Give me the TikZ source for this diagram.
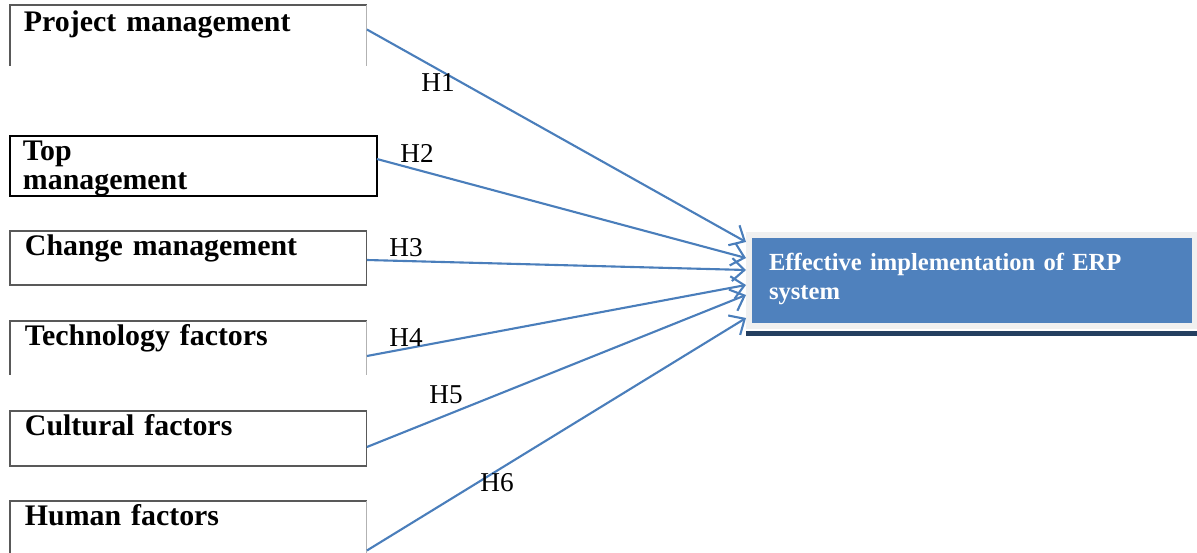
\documentclass[tikz,border=0pt]{standalone}
\usepackage{fontspec}
\setmainfont{Liberation Serif}
\usetikzlibrary{arrows.meta}
\definecolor{arrowblue}{HTML}{4A7EBB}
\definecolor{erpblue}{HTML}{4F81BD}
\definecolor{framegray}{HTML}{F0F0F0}
\definecolor{barnavy}{HTML}{243F60}
\tikzset{
  factor/.style={anchor=north west, inner xsep=0.3cm, inner ysep=0pt, outer sep=0pt,
    text width=6.54cm, align=left, text height=0.48cm, text depth=0.6cm,
    font=\fontsize{17}{15.3}\selectfont\bfseries},
  side/.style={draw=black!65, line width=0.6pt},
  lightside/.style={draw=black!30, line width=0.6pt},
  hyp/.style={font=\fontsize{15.5}{18}\selectfont, inner sep=0pt},
  link/.style={draw=arrowblue, line width=1.2pt, -{Straight Barb[length=7pt,width=13pt]}}
}
\begin{document}
\begin{tikzpicture}[x=0.02cm, y=-0.02cm]
      \useasboundingbox (0,0) rectangle (1197,552);
      % factor boxes
      \node[factor, inner xsep=0.28cm, text width=6.58cm, text height=0.54cm, text depth=0.68cm] (pm) at (10,5) {Project management};
      \node[factor, draw=black, line width=1pt, inner xsep=0.26cm, text width=6.82cm, text height=0.48cm, text depth=0.72cm] (tm) at (10,136) {Top\\[1.5pt]management};
      \node[factor, side] (cm) at (10,231) {Change management};
      \node[factor] (tf) at (10,321) {Technology factors};
      \node[factor, side, text depth=0.62cm] (cf) at (10,411) {Cultural factors};
      \node[factor, text depth=0.56cm] (hf) at (10,501) {Human factors};
      \draw[side] (pm.south west) -- (pm.north west) -- (pm.north east);
      \draw[lightside] (pm.north east) -- (pm.south east);
      \draw[side] (tf.south west) -- (tf.north west) -- (tf.north east);
      \draw[lightside] (tf.north east) -- (tf.south east);
      \draw[side] (hf.south west) -- (hf.north west) -- (hf.north east);
      \draw[lightside] (hf.north east) -- (hf.south east);
      % dependent variable
      \node[anchor=north west, fill=erpblue, draw=framegray, line width=0.12cm,
        inner xsep=0.4cm, inner ysep=0pt, outer sep=0.06cm, text width=8.12cm,
        align=left, text height=0.7cm, text depth=1.12cm, text=white,
        font=\fontsize{14}{15.9}\selectfont\bfseries] (erp) at (746,232)
        {Effective implementation of ERP\\[1pt]system};
      \draw[barnavy, line width=0.1cm] ([yshift=-0.09cm]erp.south west) -- ([yshift=-0.09cm]erp.south east);
      % hypotheses
      \begin{scope}[link]
        \draw ([yshift=0.12cm]pm.east) to ([yshift=0.77cm]erp.west);
        \draw ([yshift=0.14cm]tm.east) to ([yshift=0.45cm]erp.west);
        \draw ([yshift=-0.04cm]cm.east) to ([yshift=0.21cm]erp.west);
        \draw ([yshift=-0.16cm]tf.east) to ([yshift=-0.09cm]erp.west);
        \draw ([yshift=-0.17cm]cf.east) to ([yshift=-0.29cm]erp.west);
        \draw ([yshift=-0.47cm]hf.east) to ([yshift=-0.75cm]erp.west);
      \end{scope}
      \node[hyp] (h1) at (438,83) {H1};
      \node[hyp] (h2) at (417,153) {H2};
      \node[hyp] (h3) at (406,248) {H3};
      \node[hyp] (h4) at (406,338) {H4};
      \node[hyp] (h5) at (446,395) {H5};
      \node[hyp] (h6) at (497,483) {H6};
    \end{tikzpicture}
\end{document}
